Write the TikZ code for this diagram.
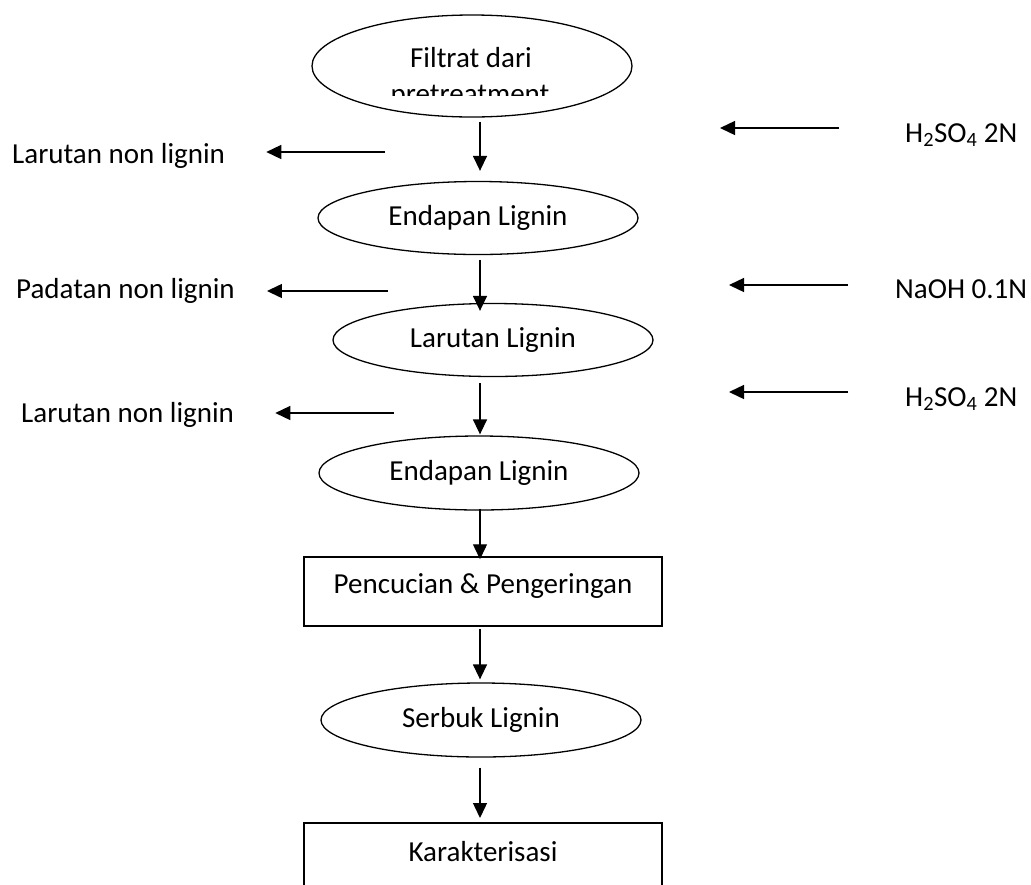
\documentclass[tikz,border=0pt]{standalone}
\usepackage{fontspec}
\setmainfont{Carlito}
\usepackage{tikz}
\usetikzlibrary{arrows.meta,shapes.geometric}
\tikzset{
  oval/.style={ellipse,draw,line width=1.3pt,minimum width=320pt,minimum height=73pt,inner sep=0pt},
  stepbox/.style={rectangle,draw,line width=1.5pt,minimum width=358pt,inner sep=0pt},
  flow/.style={-{Triangle[length=15pt,width=14pt]},line width=1.4pt},
  side/.style={inner sep=0pt,anchor=base west},
  every node/.style={font=\fontsize{29}{36}\selectfont}
}

\begin{document}
\begin{tikzpicture}[x=1pt,y=-1pt]
\useasboundingbox (0,0) rectangle (1031,884);
\clip (0,0) rectangle (1031,884);
\coordinate (spine) at (480,0);
% process steps
\node[oval,minimum height=102pt] (filt) at (472,66) {};
\node[inner sep=0pt,anchor=base] (filta) at (471,67) {Filtrat dari};
\begin{scope}
  \clip (300,0) rectangle (650,95);
  \node[inner sep=0pt,anchor=base] (filtb) at (470,103) {pretreatment};
\end{scope}
\node[oval] (endA) at (478,218) {Endapan Lignin};
\node[oval] (larA) at (493,340) {Larutan Lignin};
\node[oval,minimum height=74pt] (endB) at (479,473) {Endapan Lignin};
\node[stepbox,minimum height=69pt,text depth=15pt] (wash) at (483,591.5) {Pencucian \& Pengeringan};
\node[oval,minimum height=74pt] (powder) at (481,720) {Serbuk Lignin};
\node[stepbox,minimum height=80pt,text depth=22pt,anchor=north] (karak) at (483,822) {Karakterisasi};
% main flow
\draw[flow,shorten <=4pt,shorten >=10pt] (filt.south -| spine) -- (endA.north -| spine);
\draw[flow,shorten <=5pt,shorten >=-8pt] (endA.south -| spine) -- (larA.north -| spine);
\draw[flow,shorten <=6pt,shorten >=1pt] (larA.south -| spine) -- (endB.north -| spine);
\draw[flow,shorten <=-2pt,shorten >=-3pt] (endB.south -| spine) -- (wash.north -| spine);
\draw[flow,shorten <=2pt,shorten >=3pt] (wash.south -| spine) -- (powder.north -| spine);
\draw[flow,shorten <=10pt,shorten >=4pt] (powder.south -| spine) -- (karak.north -| spine);
% waste streams
\node[side] (outA) at (12,163) {Larutan non lignin};
\node[side] (outB) at (16,298) {Padatan non lignin};
\node[side] (outC) at (21,422) {Larutan non lignin};
\coordinate (l1) at (385,152);
\coordinate (l2) at (388,291);
\coordinate (l3) at (394,413);
\draw[flow,shorten >=41pt] (l1) -- (l1 -| outA.east);
\draw[flow,shorten >=32pt] (l2) -- (l2 -| outB.east);
\draw[flow,shorten >=41pt] (l3) -- (l3 -| outC.east);
% reagents
\node[side] (inA) at (905,142) {H\textsubscript{2}SO\textsubscript{4} 2N};
\node[side] (inB) at (895,298) {NaOH 0.1N};
\node[side] (inC) at (905,406) {H\textsubscript{2}SO\textsubscript{4} 2N};
\coordinate (r1) at (720,128);
\coordinate (r2) at (729,285);
\coordinate (r3) at (729,392);
\draw[flow,shorten <=66pt] (inA.west |- r1) -- (r1);
\draw[flow,shorten <=47pt] (inB.west |- r2) -- (r2);
\draw[flow,shorten <=57pt] (inC.west |- r3) -- (r3);
\end{tikzpicture}
\end{document}
